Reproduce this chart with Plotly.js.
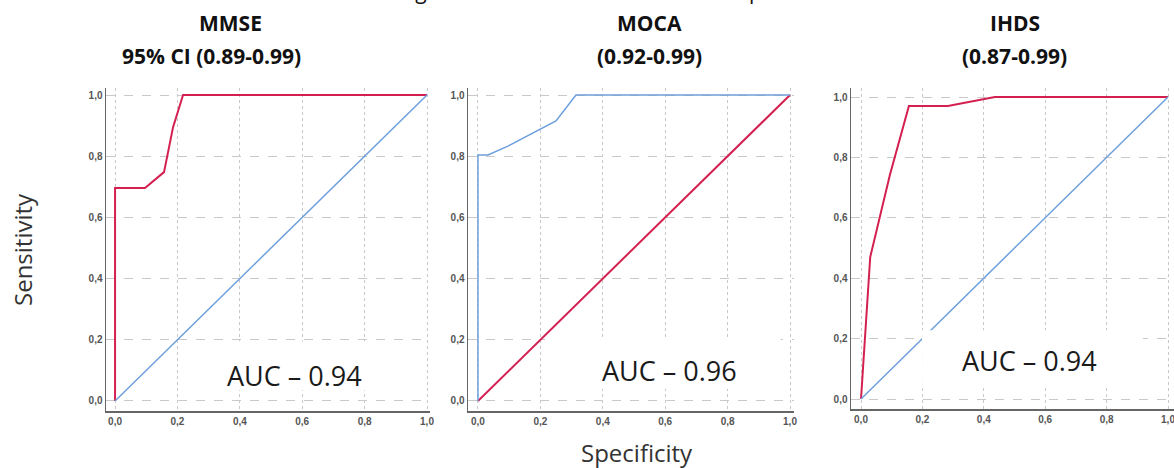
<!DOCTYPE html>
<html>
<head>
<meta charset="utf-8">
<script src="https://cdn.plot.ly/plotly-3.0.1.min.js"></script>
<style>html,body{margin:0;padding:0;background:#fff;}#chart{width:1174px;height:468px;}</style>
</head>
<body>
<div id="chart"></div>
<script>
// ROC data: x = 1 - specificity, y = sensitivity
const mmseX = [0, 0, 0.096, 0.157, 0.186, 0.218, 1];
const mmseY = [0, 0.696, 0.696, 0.748, 0.895, 1, 1];
const mocaX = [0, 0, 0.032, 0.096, 0.25, 0.314, 1];
const mocaY = [0, 0.804, 0.804, 0.833, 0.915, 1, 1];
const ihdsX = [0, 0.03, 0.094, 0.156, 0.283, 0.436, 1];
const ihdsY = [0, 0.47, 0.742, 0.97, 0.97, 1, 1];
const refX = [0, 1];
const refY = [0, 1];
const tickVals = [0, 0.2, 0.4, 0.6, 0.8, 1.0];
const tickText = ['0,0', '0,2', '0,4', '0,6', '0,8', '1,0'];
const panelNames = ['MMSE', 'MOCA', 'IHDS'];
const panelCI = ['95% CI (0.89-0.99)', '(0.92-0.99)', '(0.87-0.99)'];
const aucText = ['AUC \u2013 0.94', 'AUC \u2013 0.96', 'AUC \u2013 0.94'];

const RED = '#d42050';
const BLUE = '#6d9fdc';

const traces = [
  {x: mmseX, y: mmseY, xaxis: 'x', yaxis: 'y', mode: 'lines', line: {color: RED, width: 2}},
  {x: refX, y: refY, xaxis: 'x', yaxis: 'y', mode: 'lines', line: {color: BLUE, width: 1.5}},
  {x: refX, y: refY, xaxis: 'x2', yaxis: 'y2', mode: 'lines', line: {color: RED, width: 2}},
  {x: mocaX, y: mocaY, xaxis: 'x2', yaxis: 'y2', mode: 'lines', line: {color: BLUE, width: 1.5}},
  {x: ihdsX, y: ihdsY, xaxis: 'x3', yaxis: 'y3', mode: 'lines', line: {color: RED, width: 2}},
  {x: refX, y: refY, xaxis: 'x3', yaxis: 'y3', mode: 'lines', line: {color: BLUE, width: 1.5}}
];

const tickFont = {family: 'Liberation Sans, Arial, sans-serif', size: 10, color: '#555', weight: 'bold'};
function xax(domain, range, anchor) {
  return {domain: domain, range: range, anchor: anchor, tickvals: tickVals, ticktext: tickText,
    showgrid: true, gridcolor: '#c9c9c9', griddash: 'dot', gridwidth: 1, zeroline: false,
    showline: true, linecolor: '#666', linewidth: 1.5, ticks: '', tickfont: tickFont, fixedrange: true,
    ticklabeloverflow: 'allow'};
}
function yax(domain, range, anchor) {
  return {domain: domain, range: range, anchor: anchor, tickvals: tickVals, ticktext: tickText,
    showgrid: true, gridcolor: '#c9c9c9', griddash: 'dash', gridwidth: 1, zeroline: false,
    showline: true, linecolor: '#666', linewidth: 1.5, ticks: '', tickfont: tickFont, fixedrange: true,
    ticklabeloverflow: 'allow'};
}

const titleFont = {family: 'Open Sans, sans-serif', size: 21, color: '#111', weight: 'bold'};
const aucFont = {family: 'Open Sans, sans-serif', size: 27, color: '#1a1a1a'};
const labelFont = {family: 'Open Sans, sans-serif', size: 24, color: '#333'};

const titleX = [230 / 1174, 649 / 1174, 1015 / 1174];
const ciX = [211 / 1174, 649 / 1174, 1015 / 1174];

const annotations = [];
for (let i = 0; i < 3; i++) {
  annotations.push({text: panelNames[i], xref: 'paper', yref: 'paper', x: titleX[i], y: 1 - 23 / 468,
    xanchor: 'center', yanchor: 'middle', showarrow: false, font: titleFont});
  annotations.push({text: panelCI[i], xref: 'paper', yref: 'paper', x: ciX[i], y: 1 - 56 / 468,
    xanchor: 'center', yanchor: 'middle', showarrow: false, font: titleFont});
}
const aucPos = [[0.574, 0.082, 'x', 'y'], [0.615, 0.101, 'x2', 'y2'], [0.55, 0.126, 'x3', 'y3']];
for (let i = 0; i < 3; i++) {
  annotations.push({text: aucText[i], xref: aucPos[i][2], yref: aucPos[i][3], x: aucPos[i][0], y: aucPos[i][1],
    xanchor: 'center', yanchor: 'middle', showarrow: false, font: aucFont});
}
annotations.push({text: 'Sensitivity', xref: 'paper', yref: 'paper', x: 22 / 1174, y: 1 - 250 / 468,
  textangle: -90, xanchor: 'center', yanchor: 'middle', showarrow: false, font: labelFont});
annotations.push({text: 'Specificity', xref: 'paper', yref: 'paper', x: 637 / 1174, y: 1 - 452 / 468,
  xanchor: 'center', yanchor: 'middle', showarrow: false, font: labelFont});
annotations.push({text: 'Figure 3 ROC curves for test in AHD patients', xref: 'paper', yref: 'paper', x: 613 / 1174, y: 1 + 9 / 468,
  xanchor: 'center', yanchor: 'middle', showarrow: false, font: {family: 'Open Sans, sans-serif', size: 21, color: '#111'}});

const shapes = [
  {type: 'rect', xref: 'x', yref: 'y', x0: 0.215, x1: 0.97, y0: 0.035, y1: 0.195, fillcolor: '#fff', line: {width: 0}, layer: 'above'},
  {type: 'rect', xref: 'x2', yref: 'y2', x0: 0.215, x1: 0.97, y0: 0.04, y1: 0.205, fillcolor: '#fff', line: {width: 0}, layer: 'above'},
  {type: 'rect', xref: 'x3', yref: 'y3', x0: 0.199, x1: 0.918, y0: 0.04, y1: 0.228, fillcolor: '#fff', line: {width: 0}, layer: 'above'}
];

const layout = {
  width: 1174, height: 468,
  margin: {l: 0, r: 0, t: 0, b: 0},
  paper_bgcolor: '#fff', plot_bgcolor: '#fff',
  showlegend: false,
  xaxis: xax([106 / 1174, 430 / 1174], [-0.029, 1.0096], 'y'),
  yaxis: yax([1 - 411 / 468, 1 - 88 / 468], [-0.0327, 1.0229], 'x'),
  xaxis2: xax([468 / 1174, 794 / 1174], [-0.032, 1.0128], 'y2'),
  yaxis2: yax([1 - 411 / 468, 1 - 88 / 468], [-0.0327, 1.0229], 'x2'),
  xaxis3: xax([851 / 1174, 1], [-0.0326, 1.0195], 'y3'),
  yaxis3: yax([1 - 409 / 468, 1 - 88 / 468], [-0.0331, 1.0298], 'x3'),
  annotations: annotations,
  shapes: shapes
};

Plotly.newPlot('chart', traces, layout, {staticPlot: true, displayModeBar: false});
</script>
</body>
</html>
